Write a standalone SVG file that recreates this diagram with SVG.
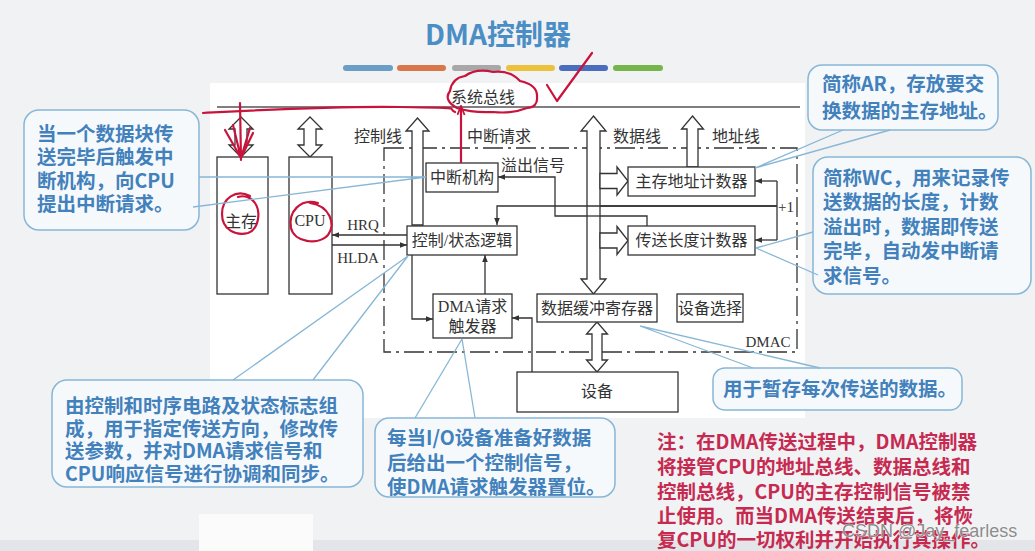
<svg xmlns="http://www.w3.org/2000/svg" width="1035" height="551" viewBox="0 0 1035 551">
<style>
.ln{stroke:#333;stroke-width:1.3;fill:none}
.bx{fill:#fff;stroke:#333;stroke-width:1.3}
.hol{fill:#fff;stroke:#333;stroke-width:1.3;stroke-linejoin:miter}
.lbl{font-family:"Liberation Serif","Noto Sans CJK SC",serif;font-size:16px;fill:#333;text-anchor:middle}
.lat{font-family:"Liberation Serif",serif;font-size:15px;fill:#333;text-anchor:middle}
.dd{stroke:#333;stroke-width:1.3;fill:none;stroke-dasharray:20 5 3 5}
.co{fill:#f6f9fc;stroke:#88b7d6;stroke-width:1.5}
.cw{stroke:#88b7d6;stroke-width:1.3;fill:none}
.ct{font-family:"Noto Sans CJK SC",sans-serif;font-size:19.5px;font-weight:700;fill:#4281bb}
.rt{font-family:"Noto Sans CJK SC",sans-serif;font-size:19.5px;font-weight:700;fill:#c62a50}
.red{stroke:#c8143c;stroke-width:2.2;fill:none;stroke-linecap:round;stroke-linejoin:round}
</style>
<defs>
<marker id="ah" viewBox="0 0 10 10" refX="10" refY="5" markerWidth="8" markerHeight="7" markerUnits="userSpaceOnUse" orient="auto">
<path d="M0,1 L10,5 L0,9 z" fill="#333"/>
</marker>
<marker id="rah" viewBox="0 0 10 10" refX="10" refY="5" markerWidth="10" markerHeight="9" markerUnits="userSpaceOnUse" orient="auto">
<path d="M0,1 L10,5 L0,9" fill="none" stroke="#c8143c" stroke-width="2"/>
</marker>
</defs>

<!-- background -->
<rect x="0" y="0" width="1035" height="551" fill="#f1f2f4"/>
<rect x="210" y="83" width="595" height="335" fill="#ffffff"/>

<!-- title -->
<g id="title">
<text x="498" y="45" text-anchor="middle" font-family="Noto Sans CJK SC, sans-serif" font-size="28" font-weight="700" fill="#4b8dc5">DMA控制器</text>
<rect x="343" y="65" width="50" height="6" rx="3" fill="#6a9ec6"/>
<rect x="397" y="65" width="49" height="6" rx="3" fill="#d9774a"/>
<rect x="452" y="65" width="49" height="6" rx="3" fill="#a8a8a8"/>
<rect x="506" y="65" width="49" height="6" rx="3" fill="#ecc23c"/>
<rect x="559" y="65" width="49" height="6" rx="3" fill="#4a6ebd"/>
<rect x="613" y="65" width="50" height="6" rx="3" fill="#76b44c"/>
</g>

<!-- system bus -->
<g id="bus">
<line x1="217" y1="107" x2="800" y2="107" stroke="#555" stroke-width="1.5"/>
<text class="lbl" x="483" y="103">系统总线</text>
</g>

<!-- DMAC boundary -->
<g id="dmac">
<rect class="dd" x="384" y="148" width="413" height="204"/>
<text class="lat" x="768" y="347">DMAC</text>
</g>

<!-- connectors -->
<g id="connectors">
<line class="ln" x1="461" y1="163" x2="461" y2="107"/>
<path class="ln" d="M407 235 H332" marker-end="url(#ah)"/>
<path class="ln" d="M332 245 H407" marker-end="url(#ah)"/>
<path class="ln" d="M412 255 V319 H433" marker-end="url(#ah)"/>
<path class="ln" d="M485 294 V255" marker-end="url(#ah)"/>
<path class="ln" d="M532 372 V318 H512" marker-end="url(#ah)"/>
<path class="ln" d="M647 226 V216 H555 V177 H498" marker-end="url(#ah)"/>
<path class="ln" d="M777 181 V240"/>
<path class="ln" d="M777 181 H755" marker-end="url(#ah)"/>
<path class="ln" d="M777 240 H755" marker-end="url(#ah)"/>
<path class="ln" d="M777 206 H497 V225" marker-end="url(#ah)"/>
<!-- hollow bus arrows -->
<polygon class="hol" points="241,117 253,129 247,129 247,145 253,145 241,157 229,145 235,145 235,129 229,129"/>
<polygon class="hol" points="310,117 322,129 316,129 316,145 322,145 310,157 298,145 304,145 304,129 298,129"/>
<polygon class="hol" points="417.5,118 429,131 423,131 423,225 412,225 412,131 406,131"/>
<polygon class="hol" points="593.5,116 606,131 600,131 600,279 606,279 593.5,294 581,279 587,279 587,131 581,131"/>
<polygon class="hol" points="692.5,116 703.5,129 698,129 698,167 687,167 687,129 681.5,129"/>
<polygon class="hol" points="600,173.5 617,173.5 617,167 628,181 617,195 617,188.5 600,188.5"/>
<polygon class="hol" points="600,233 617,233 617,226.5 628,240.5 617,254.5 617,248 600,248"/>
<polygon class="hol" points="597,322 607.5,334 602,334 602,360 607.5,360 597,372 586.5,360 592,360 592,334 586.5,334"/>
<line x1="777" y1="206" x2="587" y2="206" stroke="#333" stroke-width="1.3"/>
<line x1="600" y1="216" x2="587" y2="216" stroke="#333" stroke-width="1.3"/>
<text class="lbl" x="378" y="142">控制线</text>
<text class="lbl" x="499" y="142">中断请求</text>
<text class="lbl" x="637" y="142">数据线</text>
<text class="lbl" x="736" y="142">地址线</text>
<text class="lbl" x="533" y="171">溢出信号</text>
<text class="lat" x="786" y="212">+1</text>
<text class="lat" x="363" y="230">HRQ</text>
<text class="lat" x="358" y="263">HLDA</text>
</g>

<!-- nodes -->
<g id="mem"><rect class="bx" x="217" y="157" width="51" height="137"/><text class="lbl" x="241" y="227">主存</text></g>
<g id="cpu"><rect class="bx" x="289" y="157" width="43" height="137"/><text class="lbl" x="310" y="226">CPU</text></g>
<g id="intr"><rect class="bx" x="426" y="163" width="72" height="29"/><text class="lbl" x="462" y="183">中断机构</text></g>
<g id="ctrl"><rect class="bx" x="407" y="226" width="110" height="29"/><text class="lbl" x="462" y="246">控制/状态逻辑</text></g>
<g id="ar"><rect class="bx" x="628" y="167" width="127" height="29"/><text class="lbl" x="691.5" y="187">主存地址计数器</text></g>
<g id="wc"><rect class="bx" x="628" y="226" width="127" height="29"/><text class="lbl" x="691.5" y="246">传送长度计数器</text></g>
<g id="dmareq"><rect class="bx" x="433" y="294" width="79" height="44"/><text class="lbl" x="472.5" y="312">DMA请求</text><text class="lbl" x="472.5" y="332">触发器</text></g>
<g id="buf"><rect class="bx" x="537" y="294" width="120" height="28"/><text class="lbl" x="597" y="314">数据缓冲寄存器</text></g>
<g id="devsel"><rect class="bx" x="677" y="294" width="66" height="28"/><text class="lbl" x="710" y="314">设备选择</text></g>
<g id="dev"><rect class="bx" x="517" y="372" width="161" height="40"/><text class="lbl" x="597" y="397">设备</text></g>

<!-- red annotations -->
<g id="annotations">
<path class="red" d="M203 113 C260 110,330 106,400 107 S445 108,455 112"/>
<path class="red" d="M240 103 L241 160 M225 130 L241 158 M233 125 L241 158 M250 128 L241 158 M253 133 L241 158"/>
<path class="red" d="M461 162 L461 106" marker-end="url(#rah)"/>
<path class="red" d="M457 108 Q443 100,450 91 Q452 78,465 76 Q476 68,493 72 Q510 70,520 81 Q538 85,537 97 Q538 107,527 108 Q512 114,493 112 Q472 113,457 108"/>
<path class="red" d="M547 85 L557 101 L592 53"/>
<path class="red" d="M250 196 C236 189,222 198,222 214 C222 230,236 236,248 233 C259 229,261 212,255 203 C251 197,244 195,238 197"/>
<path class="red" d="M318 203 C300 198,288 212,291 228 C294 242,318 246,328 235 C336 224,330 206,310 203"/>
</g>

<!-- callouts -->
<g id="callout-intr">
<rect class="co" x="24" y="110" width="175" height="120" rx="15"/>
<path class="cw" d="M199 177 L426 177 M193 207 L426 177"/>
<text class="ct" x="37" y="140.5">当一个数据块传</text>
<text class="ct" x="37" y="164">送完毕后触发中</text>
<text class="ct" x="37" y="187.5">断机构，向CPU</text>
<text class="ct" x="37" y="211">提出中断请求。</text>
</g>
<g id="callout-ar">
<rect class="co" x="808" y="65" width="190" height="65" rx="14"/>
<path class="cw" d="M843 130 L755 168 M890 130 L755 168"/>
<text class="ct" x="822" y="90.5">简称AR，存放要交</text>
<text class="ct" x="822" y="117.5">换数据的主存地址。</text>
</g>
<g id="callout-wc">
<rect class="co" x="813" y="157" width="218" height="137" rx="15"/>
<path class="cw" d="M813 232 L756 248 M818 275 L756 248"/>
<text class="ct" x="823" y="184.5">简称WC，用来记录传</text>
<text class="ct" x="823" y="209">送数据的长度，计数</text>
<text class="ct" x="823" y="233.5">溢出时，数据即传送</text>
<text class="ct" x="823" y="258">完毕，自动发中断请</text>
<text class="ct" x="823" y="282.5">求信号。</text>
</g>
<g id="callout-ctrl">
<rect class="co" x="52" y="380" width="311" height="107" rx="15"/>
<path class="cw" d="M233 380 L408 256 M313 380 L408 256"/>
<text class="ct" x="65" y="412.5">由控制和时序电路及状态标志组</text>
<text class="ct" x="65" y="435.5">成，用于指定传送方向，修改传</text>
<text class="ct" x="65" y="458">送参数，并对DMA请求信号和</text>
<text class="ct" x="65" y="480.5">CPU响应信号进行协调和同步。</text>
</g>
<g id="callout-io">
<rect class="co" x="375" y="418" width="240" height="79" rx="14"/>
<path class="cw" d="M415 418 L462 339 M475 418 L462 339"/>
<text class="ct" x="387" y="444.5">每当I/O设备准备好数据</text>
<text class="ct" x="387" y="469.5">后给出一个控制信号，</text>
<text class="ct" x="387" y="493.5">使DMA请求触发器置位。</text>
</g>
<g id="callout-buf">
<rect class="co" x="713" y="368" width="249" height="42" rx="12"/>
<path class="cw" d="M753 368 L640 326 M820 368 L640 326"/>
<text class="ct" x="723" y="395.5">用于暂存每次传送的数据。</text>
</g>

<!-- bottom bar -->
<rect x="0" y="540" width="1035" height="11" fill="#e4e5e8"/>
<rect x="199" y="514" width="114" height="37" fill="#fbfbfc"/>

<!-- note -->
<g id="note">
<text class="rt" x="657" y="449">注：在DMA传送过程中，DMA控制器</text>
<text class="rt" x="657" y="474">将接管CPU的地址总线、数据总线和</text>
<text class="rt" x="657" y="498.5">控制总线，CPU的主存控制信号被禁</text>
<text class="rt" x="657" y="522.5">止使用。而当DMA传送结束后，将恢</text>
<text class="rt" x="657" y="547">复CPU的一切权利并开始执行其操作。</text>
</g>
<text x="842" y="537" font-family="Liberation Sans, sans-serif" font-size="18" fill="#8c8c8c" stroke="#ffffff" stroke-width="0.6" paint-order="stroke">CSDN @Jay_fearless</text>
</svg>
